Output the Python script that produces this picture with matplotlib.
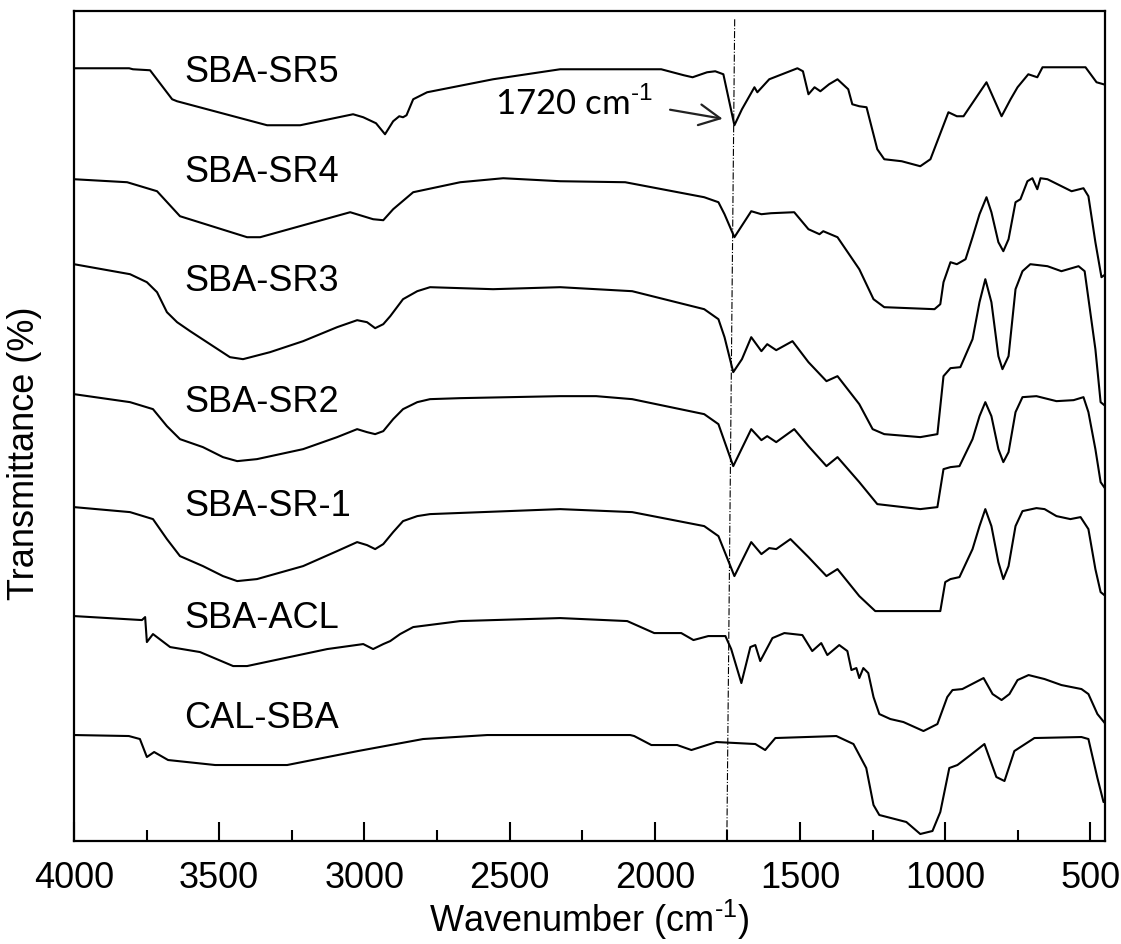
"""
FTIR spectra of the SBA samples, stacked with offsets.
"""

import matplotlib
matplotlib.use('Agg')
import matplotlib.pyplot as plt
from matplotlib.ticker import MultipleLocator

plt.rcParams['font.family'] = ['Liberation Sans', 'DejaVu Sans']
plt.rcParams['mathtext.fontset'] = 'custom'
plt.rcParams['mathtext.rm'] = 'Liberation Sans'
plt.rcParams['axes.unicode_minus'] = False

# wavenumber (cm-1) and offset transmittance (a.u.)
sr5_wn = [4000, 3810, 3797, 3738, 3662, 3645, 3335, 3221, 3039, 3004, 2960, 2929, 2901, 2880,
          2867, 2855, 2832, 2784, 2557, 2326, 2078, 1978, 1900, 1870, 1820, 1792, 1764, 1726,
          1700, 1657, 1647, 1606, 1509, 1490, 1471, 1450, 1430, 1400, 1371, 1334, 1320, 1296,
          1271, 1234, 1210, 1150, 1086, 1051, 989, 960, 937, 858, 806, 775, 751, 714, 683, 665,
          517, 479, 455]
sr5_t = [773, 773, 772, 771, 742, 740, 716, 716, 727, 724, 718, 707, 720, 725,
         724, 726, 742, 749, 762, 772, 772, 772, 766, 764, 769, 770, 767, 716,
         732, 754, 749, 762, 773, 770, 747, 754, 750, 757, 762, 752, 737, 735,
         734, 692, 682, 680, 675, 682, 729, 725, 725, 759, 725, 742, 754, 767, 764, 774,
         774, 759, 757]

sr4_wn = [4000, 3817, 3714, 3635, 3404, 3359, 3049, 2970, 2935, 2901, 2832, 2670, 2522, 2326,
          2102, 1830, 1781, 1760, 1726, 1668, 1633, 1600, 1520, 1471, 1433, 1420, 1371, 1296,
          1247, 1210, 1037, 1017, 1006, 982, 960, 930, 906, 882, 858, 841, 817, 800, 782, 758,
          741, 717, 700, 683, 672, 648, 565, 524, 507, 483, 462, 448]
sr4_t = [662, 659, 650, 625, 604, 604, 629, 622, 621, 632, 649, 659, 663, 660,
         659, 644, 639, 627, 604, 630, 627, 628, 629, 612, 607, 610, 604, 572,
         542, 534, 532, 537, 559, 579, 577, 582, 604, 627, 644, 629, 599, 590, 602, 639,
         642, 660, 663, 652, 663, 662, 650, 653, 645, 599, 564, 567]

sr3_wn = [4000, 3807, 3749, 3714, 3680, 3645, 3600, 3521, 3463, 3418, 3325, 3211, 3094, 3025,
          2991, 2963, 2935, 2911, 2867, 2818, 2774, 2557, 2326, 2078, 1830, 1781, 1760, 1730,
          1700, 1668, 1633, 1613, 1582, 1526, 1471, 1409, 1371, 1296, 1250, 1210, 1086, 1027,
          1006, 982, 948, 906, 882, 862, 841, 817, 803, 782, 758, 734, 707, 648, 600, 541,
          520, 483, 465, 448]
sr3_t = [577, 567, 559, 549, 529, 519, 510, 495, 484, 482, 489, 500, 514, 521,
         519, 513, 517, 525, 542, 550, 554, 552, 554, 550, 532, 522, 504, 469,
         482, 504, 490, 497, 491, 500, 479, 460, 465, 437, 412, 407, 404, 407,
         465, 473, 474, 502, 539, 562, 539, 485, 472, 485, 552, 570, 577, 575, 570, 575,
         570, 492, 439, 435]

sr2_wn = [4000, 3807, 3728, 3680, 3635, 3556, 3487, 3438, 3370, 3211, 3094, 3025, 2991, 2963,
          2935, 2901, 2867, 2818, 2774, 2670, 2326, 2202, 2078, 1830, 1781, 1730, 1668, 1633,
          1613, 1582, 1520, 1471, 1409, 1371, 1296, 1234, 1086, 1027, 1006, 982, 951, 906,
          882, 862, 841, 817, 800, 782, 758, 734, 686, 617, 558, 524, 507, 483, 465, 448]
sr2_t = [447, 439, 432, 415, 402, 394, 384, 380, 382, 392, 404, 412, 409, 407,
         410, 422, 432, 439, 442, 443, 445, 445, 442, 427, 417, 375, 412, 401,
         405, 399, 412, 395, 375, 384, 359, 337, 332, 334, 372, 374, 375, 402,
         425, 439, 425, 392, 379, 389, 429, 444, 445, 440, 441, 444, 429, 392, 359, 352]

sr1_wn = [4000, 3807, 3728, 3680, 3635, 3556, 3487, 3438, 3370, 3211, 3094, 3025, 2991, 2963,
          2935, 2901, 2867, 2818, 2774, 2326, 2078, 1830, 1781, 1726, 1668, 1633, 1606, 1582,
          1533, 1471, 1409, 1371, 1296, 1241, 1017, 1000, 982, 951, 906, 882, 862, 841, 817,
          800, 782, 758, 734, 686, 658, 617, 569, 534, 507, 483, 465, 448]
sr1_t = [334, 329, 322, 302, 285, 275, 265, 260, 262, 275, 290, 299, 296, 292,
         297, 309, 320, 325, 327, 332, 329, 315, 305, 265, 299, 287, 293, 292,
         302, 284, 265, 272, 245, 230, 230, 259, 262, 264, 292, 315, 332, 315, 279,
         262, 275, 315, 330, 333, 332, 325, 322, 324, 312, 272, 249, 245]

acl_wn = [4000, 3766, 3755, 3749, 3728, 3669, 3566, 3452, 3404, 3128, 3004, 2970, 2935, 2911,
          2877, 2832, 2670, 2326, 2095, 2002, 1909, 1867, 1816, 1757, 1737, 1702, 1671, 1654,
          1637, 1595, 1554, 1492, 1458, 1427, 1406, 1365, 1337, 1323, 1306, 1296, 1282, 1265,
          1247, 1227, 1189, 1144, 1075, 1027, 993, 975, 941, 868, 837, 806, 779, 751, 713,
          658, 600, 531, 507, 476, 448]
acl_t = [225, 221, 224, 199, 207, 194, 189, 175, 175, 192, 197, 192, 197, 200,
         207, 214, 220, 223, 220, 208, 208, 201, 205, 205, 192, 158, 194, 196,
         180, 203, 208, 206, 190, 198, 186, 196, 190, 171, 173, 163, 173, 168,
         144, 127, 122, 119, 110, 117, 144, 151, 152, 163, 147, 141, 147, 161, 166,
         162, 156, 152, 147, 127, 117]

cal_wn = [4000, 3811, 3773, 3749, 3724, 3676, 3514, 3266, 3022, 2798, 2577, 2085, 2071, 2012,
          1923, 1874, 1788, 1654, 1620, 1585, 1375, 1316, 1272, 1247, 1227, 1134, 1086, 1044,
          1017, 986, 958, 913, 865, 824, 796, 762, 693, 531, 507, 476, 455, 448]
cal_t = [106, 105, 102, 84, 89, 81, 76, 76, 90, 102, 106, 106, 105, 96,
         96, 91, 99, 97, 91, 103, 105, 97, 73, 36, 26, 19, 7, 10,
         29, 73, 76, 86, 97, 64, 60, 90, 103, 104, 102, 63, 39, 39]

samples = ['SBA-SR5', 'SBA-SR4', 'SBA-SR3', 'SBA-SR2', 'SBA-SR-1', 'SBA-ACL', 'CAL-SBA']
spectra = [(sr5_wn, sr5_t), (sr4_wn, sr4_t), (sr3_wn, sr3_t), (sr2_wn, sr2_t),
           (sr1_wn, sr1_t), (acl_wn, acl_t), (cal_wn, cal_t)]

# label heights (same units as the spectra)
label_y = [770, 670, 561, 440, 336, 224, 124]

fig = plt.figure(figsize=(11.21, 9.45), dpi=100)
ax = fig.add_axes([0.066, 0.109, 0.9197, 0.878])

for (wn, t) in spectra:
    ax.plot(wn, t, color='black', lw=1.5)

for name, y in zip(samples, label_y):
    ax.text(3620, y, name, ha='left', va='center', fontsize=26)

# marker line at the carbonyl band
ax.plot([1725, 1752], [822, 0], color='black', lw=0.8, ls='-.')

ax.annotate('', xy=(1757, 722), xytext=(1957, 732),
            arrowprops=dict(arrowstyle='->,head_length=0.6,head_width=0.3',
                            color='#222222', lw=1.6, mutation_scale=25))
ax.text(2550, 739, r'1720 cm$^{\text{-1}}$', ha='left', va='center',
        fontsize=25, family=['Lato', 'DejaVu Sans'])

ax.set_xlim(4000, 450)
ax.set_ylim(0, 830)
ax.xaxis.set_major_locator(MultipleLocator(500))
ax.xaxis.set_minor_locator(MultipleLocator(250))
ax.tick_params(axis='x', which='major', direction='in', length=14, width=1.5,
               labelsize=26, pad=14, top=False)
ax.tick_params(axis='x', which='minor', direction='in', length=8, width=1.5, top=False)
ax.set_yticks([])
for sp in ax.spines.values():
    sp.set_linewidth(1.6)

ax.set_xlabel(r'Wavenumber (cm$^{\text{-1}}$)', fontsize=26, labelpad=1)
ax.set_ylabel('Transmittance (%)', fontsize=26)
ax.yaxis.set_label_coords(-0.031, 0.469)

plt.savefig('out.png', dpi=100, facecolor='white')
